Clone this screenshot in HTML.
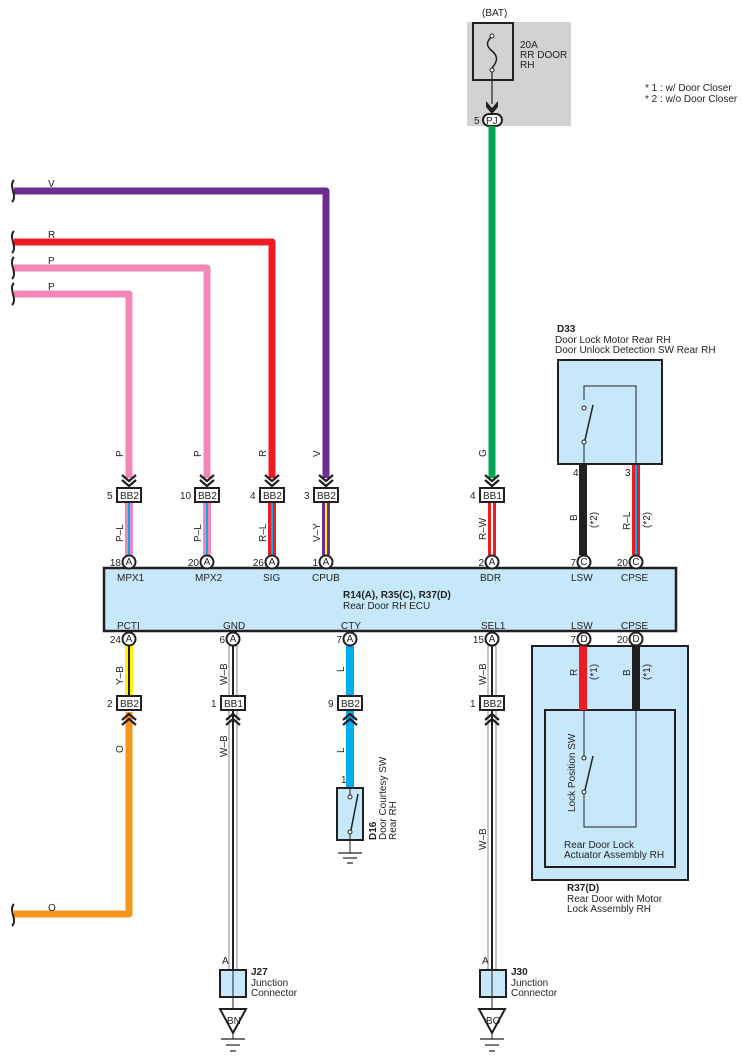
<!DOCTYPE html>
<html><head><meta charset="utf-8"><style>
html,body{margin:0;padding:0;background:#fff}
svg{display:block;font-family:"Liberation Sans",sans-serif}
text{font-size:10px;fill:#231f20}
.b{font-weight:bold}
</style></head><body>
<svg width="742" height="1062" viewBox="0 0 742 1062" xmlns="http://www.w3.org/2000/svg">
<defs>
<g id="chev"><path d="M-7,-9 L0,-3 L7,-9" fill="none" stroke="#231f20" stroke-width="2.2"/><path d="M-7,-4 L0,2 L7,-4" fill="none" stroke="#231f20" stroke-width="2.2"/></g>
<g id="chevu"><path d="M-7,9 L0,3 L7,9" fill="none" stroke="#231f20" stroke-width="2.2"/><path d="M-7,4 L0,-2 L7,4" fill="none" stroke="#231f20" stroke-width="2.2"/></g>
</defs>

<!-- fuse -->
<rect x="467" y="22" width="104" height="104" fill="#d1d2d4"/>
<rect x="473" y="23" width="40" height="57" fill="none" stroke="#231f20" stroke-width="2"/>
<text x="482" y="16">(BAT)</text>
<path d="M492,36 C486,42 486,46 492,51 C498,56 498,61 492,68" fill="none" stroke="#231f20" stroke-width="1.5"/>
<circle cx="492" cy="36" r="2" fill="#fff" stroke="#231f20"/>
<circle cx="492" cy="70" r="2" fill="#fff" stroke="#231f20"/>
<line x1="492" y1="72" x2="492" y2="104" stroke="#231f20" stroke-width="1.2"/>
<path d="M486,101 L492,108 L498,101 L498,107 L492,114 L486,107Z" fill="#231f20"/>
<text x="520" y="48">20A</text><text x="520" y="58">RR DOOR</text><text x="520" y="68">RH</text>
<rect x="483" y="114" width="19" height="12" rx="6" fill="#fff" stroke="#231f20" stroke-width="2"/>
<text x="486" y="124" font-size="9">PJ</text><text x="474" y="124">5</text>
<text x="645" y="91" font-size="9">* 1 : w/ Door Closer</text>
<text x="645" y="102" font-size="9">* 2 : w/o Door Closer</text>

<!-- upper wires -->
<g fill="none" stroke-width="7" stroke-linejoin="round">
<path d="M14,191 H326 V478" stroke="#6d2c8f"/>
<path d="M14,242 H272 V478" stroke="#ed1c24"/>
<path d="M14,268 H207 V478" stroke="#f287b7"/>
<path d="M14,294 H129 V478" stroke="#f287b7"/>
<path d="M492,126 V478" stroke="#00a651"/>
</g>
<g fill="none" stroke="#231f20" stroke-width="2">
<path d="M14,180 C8,186 18,196 12,202"/><path d="M14,231 C8,237 18,247 12,253"/>
<path d="M14,257 C8,263 18,273 12,279"/><path d="M14,283 C8,289 18,299 12,305"/>
</g>
<text x="48" y="187">V</text><text x="48" y="238">R</text><text x="48" y="264">P</text><text x="48" y="290">P</text>
<g font-size="9">
<text transform="translate(123,457) rotate(-90)">P</text>
<text transform="translate(201,457) rotate(-90)">P</text>
<text transform="translate(266,457) rotate(-90)">R</text>
<text transform="translate(320,457) rotate(-90)">V</text>
<text transform="translate(486,457) rotate(-90)">G</text>
</g>
<use href="#chev" x="129" y="484"/><use href="#chev" x="207" y="484"/><use href="#chev" x="272" y="484"/><use href="#chev" x="326" y="484"/><use href="#chev" x="492" y="484"/>

<!-- striped wires between BB and A -->
<rect x="125" y="502" width="8" height="53" fill="#f287b7"/><rect x="128" y="502" width="2" height="53" fill="#00aeef"/>
<rect x="203" y="502" width="8" height="53" fill="#f287b7"/><rect x="206" y="502" width="2" height="53" fill="#00aeef"/>
<rect x="268" y="502" width="8" height="53" fill="#ed1c24"/><rect x="271" y="502" width="2" height="53" fill="#00aeef"/>
<rect x="322" y="502" width="8" height="53" fill="#6d2c8f"/><rect x="325" y="502" width="2" height="53" fill="#fff200"/>
<rect x="488" y="502" width="8" height="53" fill="#ed1c24"/><rect x="491" y="502" width="2" height="53" fill="#fff"/>
<rect x="579" y="464" width="8" height="91" fill="#231f20"/>
<rect x="632" y="464" width="8" height="91" fill="#ed1c24"/><rect x="635" y="464" width="2" height="91" fill="#00aeef"/>
<g font-size="9">
<text transform="translate(123,542) rotate(-90)">P–L</text>
<text transform="translate(201,542) rotate(-90)">P–L</text>
<text transform="translate(266,542) rotate(-90)">R–L</text>
<text transform="translate(320,542) rotate(-90)">V–Y</text>
<text transform="translate(486,540) rotate(-90)">R–W</text>
<text transform="translate(577,521) rotate(-90)">B</text>
<text transform="translate(597,528) rotate(-90)" fill="#555">(*2)</text>
<text transform="translate(630,530) rotate(-90)">R–L</text>
<text transform="translate(650,528) rotate(-90)" fill="#555">(*2)</text>
</g>

<!-- BB boxes top -->
<g fill="#fff" stroke="#231f20" stroke-width="2">
<rect x="117" y="488" width="24" height="14"/><rect x="195" y="488" width="24" height="14"/>
<rect x="260" y="488" width="24" height="14"/><rect x="314" y="488" width="24" height="14"/>
<rect x="480" y="488" width="24" height="14"/>
</g>
<g font-size="9.5">
<text x="120" y="499">BB2</text><text x="198" y="499">BB2</text><text x="263" y="499">BB2</text><text x="317" y="499">BB2</text><text x="483" y="499">BB1</text>
<text x="107" y="499">5</text><text x="180" y="499">10</text><text x="250" y="499">4</text><text x="304" y="499">3</text><text x="470" y="499">4</text>
</g>

<!-- D33 -->
<text x="557" y="332" class="b">D33</text>
<text x="555" y="343" font-size="9.5">Door Lock Motor Rear RH</text>
<text x="555" y="353" font-size="9.5">Door Unlock Detection SW Rear RH</text>
<rect x="558" y="360" width="104" height="104" fill="#c7e8fa" stroke="#231f20" stroke-width="2"/>
<path d="M584,464 V386 H636 V464" fill="none" stroke="#231f20" stroke-width="1"/>
<rect x="583" y="400" width="2" height="40" fill="#c7e8fa"/>
<circle cx="584" cy="408" r="2" fill="#fff" stroke="#231f20"/><circle cx="584" cy="442" r="2" fill="#fff" stroke="#231f20"/>
<line x1="585" y1="440" x2="593" y2="405" stroke="#231f20" stroke-width="1.5"/>
<text x="573" y="476">4</text><text x="625" y="476">3</text>

<!-- ECU -->
<rect x="104" y="568" width="572" height="63" fill="#c7e8fa" stroke="#231f20" stroke-width="2.5"/>
<g font-size="10">
<text x="117" y="581">MPX1</text><text x="195" y="581">MPX2</text><text x="263" y="581">SIG</text><text x="312" y="581">CPUB</text>
<text x="480" y="581">BDR</text><text x="571" y="581">LSW</text><text x="621" y="581">CPSE</text>
<text x="117" y="629">PCTI</text><text x="223" y="629">GND</text><text x="341" y="629">CTY</text>
<text x="481" y="629">SEL1</text><text x="571" y="629">LSW</text><text x="621" y="629">CPSE</text>
</g>
<text x="343" y="598" class="b">R14(A), R35(C), R37(D)</text>
<text x="343" y="609">Rear Door RH ECU</text>

<!-- lower wires -->
<rect x="125" y="646" width="8" height="50" fill="#fff200"/><rect x="128" y="646" width="2" height="50" fill="#231f20"/>
<path d="M129,712 V914 H14" fill="none" stroke="#f7941d" stroke-width="7" stroke-linejoin="round"/>
<path d="M14,904 C8,910 18,920 12,926" fill="none" stroke="#231f20" stroke-width="2"/>
<text x="48" y="911">O</text>
<g>
<rect x="229" y="646" width="8" height="324" fill="#fff" stroke="#888" stroke-width="1"/><rect x="232" y="646" width="2" height="324" fill="#231f20"/>
<rect x="488" y="646" width="8" height="324" fill="#fff" stroke="#888" stroke-width="1"/><rect x="491" y="646" width="2" height="324" fill="#231f20"/>
</g>
<rect x="346" y="646" width="8" height="142" fill="#00aeef"/>
<g font-size="9">
<text transform="translate(123,685) rotate(-90)">Y–B</text>
<text transform="translate(227,685) rotate(-90)">W–B</text>
<text transform="translate(344,672) rotate(-90)">L</text>
<text transform="translate(486,685) rotate(-90)">W–B</text>
<text transform="translate(123,753) rotate(-90)">O</text>
<text transform="translate(227,757) rotate(-90)">W–B</text>
<text transform="translate(344,753) rotate(-90)">L</text>
<text transform="translate(486,850) rotate(-90)">W–B</text>
</g>
<use href="#chevu" x="129" y="716"/><use href="#chevu" x="233" y="716"/><use href="#chevu" x="350" y="716"/><use href="#chevu" x="492" y="716"/>
<g fill="#fff" stroke="#231f20" stroke-width="2">
<rect x="117" y="696" width="24" height="14"/><rect x="221" y="696" width="24" height="14"/>
<rect x="338" y="696" width="24" height="14"/><rect x="480" y="696" width="24" height="14"/>
</g>
<g font-size="9.5">
<text x="120" y="707">BB2</text><text x="224" y="707">BB1</text><text x="341" y="707">BB2</text><text x="483" y="707">BB2</text>
<text x="107" y="707">2</text><text x="211" y="707">1</text><text x="328" y="707">9</text><text x="470" y="707">1</text>
</g>

<!-- D16 -->
<text x="341" y="783">1</text>
<rect x="337" y="788" width="26" height="52" fill="#c7e8fa" stroke="#231f20" stroke-width="2"/>
<line x1="350" y1="788" x2="350" y2="796" stroke="#231f20"/>
<circle cx="350" cy="797" r="2" fill="#fff" stroke="#231f20"/><circle cx="350" cy="832" r="2" fill="#fff" stroke="#231f20"/>
<line x1="351" y1="830" x2="358" y2="794" stroke="#231f20" stroke-width="1.5"/>
<line x1="350" y1="834" x2="350" y2="853" stroke="#231f20"/>
<g stroke="#231f20" stroke-width="1.2"><line x1="338" y1="853" x2="362" y2="853"/><line x1="343" y1="858" x2="357" y2="858"/><line x1="347" y1="863" x2="353" y2="863"/></g>
<text transform="translate(376,840) rotate(-90)" class="b">D16</text>
<text transform="translate(386,840) rotate(-90)" font-size="9.5">Door Courtesy SW</text>
<text transform="translate(396,840) rotate(-90)" font-size="9.5">Rear RH</text>

<!-- R37 -->
<rect x="532" y="646" width="156" height="234" fill="#c7e8fa" stroke="#231f20" stroke-width="2"/>
<rect x="545" y="710" width="130" height="157" fill="#c7e8fa" stroke="#231f20" stroke-width="2"/>
<rect x="579" y="646" width="8" height="64" fill="#ed1c24"/>
<rect x="632" y="646" width="8" height="64" fill="#231f20"/>
<path d="M584,710 V758 M584,792 V827 H636 V710" fill="none" stroke="#231f20" stroke-width="1"/>
<circle cx="584" cy="758" r="2" fill="#fff" stroke="#231f20"/><circle cx="584" cy="792" r="2" fill="#fff" stroke="#231f20"/>
<line x1="585" y1="790" x2="593" y2="756" stroke="#231f20" stroke-width="1.5"/>
<text transform="translate(575,812) rotate(-90)" font-size="9.5">Lock Position SW</text>
<g font-size="9">
<text transform="translate(577,676) rotate(-90)">R</text>
<text transform="translate(597,680) rotate(-90)" fill="#555">(*1)</text>
<text transform="translate(630,676) rotate(-90)">B</text>
<text transform="translate(650,680) rotate(-90)" fill="#555">(*1)</text>
</g>
<text x="564" y="848" font-size="9.5">Rear Door Lock</text>
<text x="564" y="858" font-size="9.5">Actuator Assembly RH</text>
<text x="567" y="891" class="b">R37(D)</text>
<text x="567" y="902" font-size="9.5">Rear Door with Motor</text>
<text x="567" y="912" font-size="9.5">Lock Assembly RH</text>

<!-- connector circles -->
<g fill="#fff" stroke="#231f20" stroke-width="2">
<circle cx="129" cy="562" r="6.5"/><circle cx="207" cy="562" r="6.5"/><circle cx="272" cy="562" r="6.5"/><circle cx="326" cy="562" r="6.5"/>
<circle cx="492" cy="562" r="6.5"/><circle cx="584" cy="562" r="6.5"/><circle cx="636" cy="562" r="6.5"/>
<circle cx="129" cy="639" r="6.5"/><circle cx="233" cy="639" r="6.5"/><circle cx="350" cy="639" r="6.5"/>
<circle cx="492" cy="639" r="6.5"/><circle cx="584" cy="639" r="6.5"/><circle cx="636" cy="639" r="6.5"/>
</g>
<g font-size="9" text-anchor="middle">
<text x="129" y="565">A</text><text x="207" y="565">A</text><text x="272" y="565">A</text><text x="326" y="565">A</text>
<text x="492" y="565">A</text><text x="584" y="565">C</text><text x="636" y="565">C</text>
<text x="129" y="642">A</text><text x="233" y="642">A</text><text x="350" y="642">A</text>
<text x="492" y="642">A</text><text x="584" y="642">D</text><text x="636" y="642">D</text>
</g>
<g font-size="9.5" text-anchor="end">
<text x="121" y="566">18</text><text x="199" y="566">20</text><text x="264" y="566">26</text><text x="318" y="566">1</text>
<text x="484" y="566">2</text><text x="576" y="566">7</text><text x="628" y="566">20</text>
<text x="121" y="643">24</text><text x="225" y="643">6</text><text x="342" y="643">7</text>
<text x="484" y="643">15</text><text x="576" y="643">7</text><text x="628" y="643">20</text>
</g>

<!-- junctions -->
<g>
<rect x="220" y="970" width="26" height="27" fill="#c7e8fa" stroke="#231f20" stroke-width="2"/>
<line x1="233" y1="970" x2="233" y2="1009" stroke="#231f20"/>
<path d="M220,1009 H246 L233,1033Z" fill="#fff" stroke="#231f20" stroke-width="2"/>
<line x1="233" y1="1033" x2="233" y2="1039" stroke="#231f20"/>
<g stroke="#231f20" stroke-width="1.2"><line x1="221" y1="1039" x2="245" y2="1039"/><line x1="226" y1="1045" x2="240" y2="1045"/><line x1="230" y1="1051" x2="236" y2="1051"/></g>
<text x="227" y="1024" font-size="9">BN</text>
<text x="222" y="964" font-size="9">A</text>
<text x="251" y="975" class="b">J27</text><text x="251" y="986" font-size="9.5">Junction</text><text x="251" y="996" font-size="9.5">Connector</text>
</g>
<g>
<rect x="480" y="970" width="26" height="27" fill="#c7e8fa" stroke="#231f20" stroke-width="2"/>
<line x1="492" y1="970" x2="492" y2="1009" stroke="#231f20"/>
<path d="M479,1009 H505 L492,1033Z" fill="#fff" stroke="#231f20" stroke-width="2"/>
<line x1="492" y1="1033" x2="492" y2="1039" stroke="#231f20"/>
<g stroke="#231f20" stroke-width="1.2"><line x1="480" y1="1039" x2="504" y2="1039"/><line x1="485" y1="1045" x2="499" y2="1045"/><line x1="489" y1="1051" x2="495" y2="1051"/></g>
<text x="486" y="1024" font-size="9">BO</text>
<text x="482" y="964" font-size="9">A</text>
<text x="511" y="975" class="b">J30</text><text x="511" y="986" font-size="9.5">Junction</text><text x="511" y="996" font-size="9.5">Connector</text>
</g>
</svg>
</body></html>
